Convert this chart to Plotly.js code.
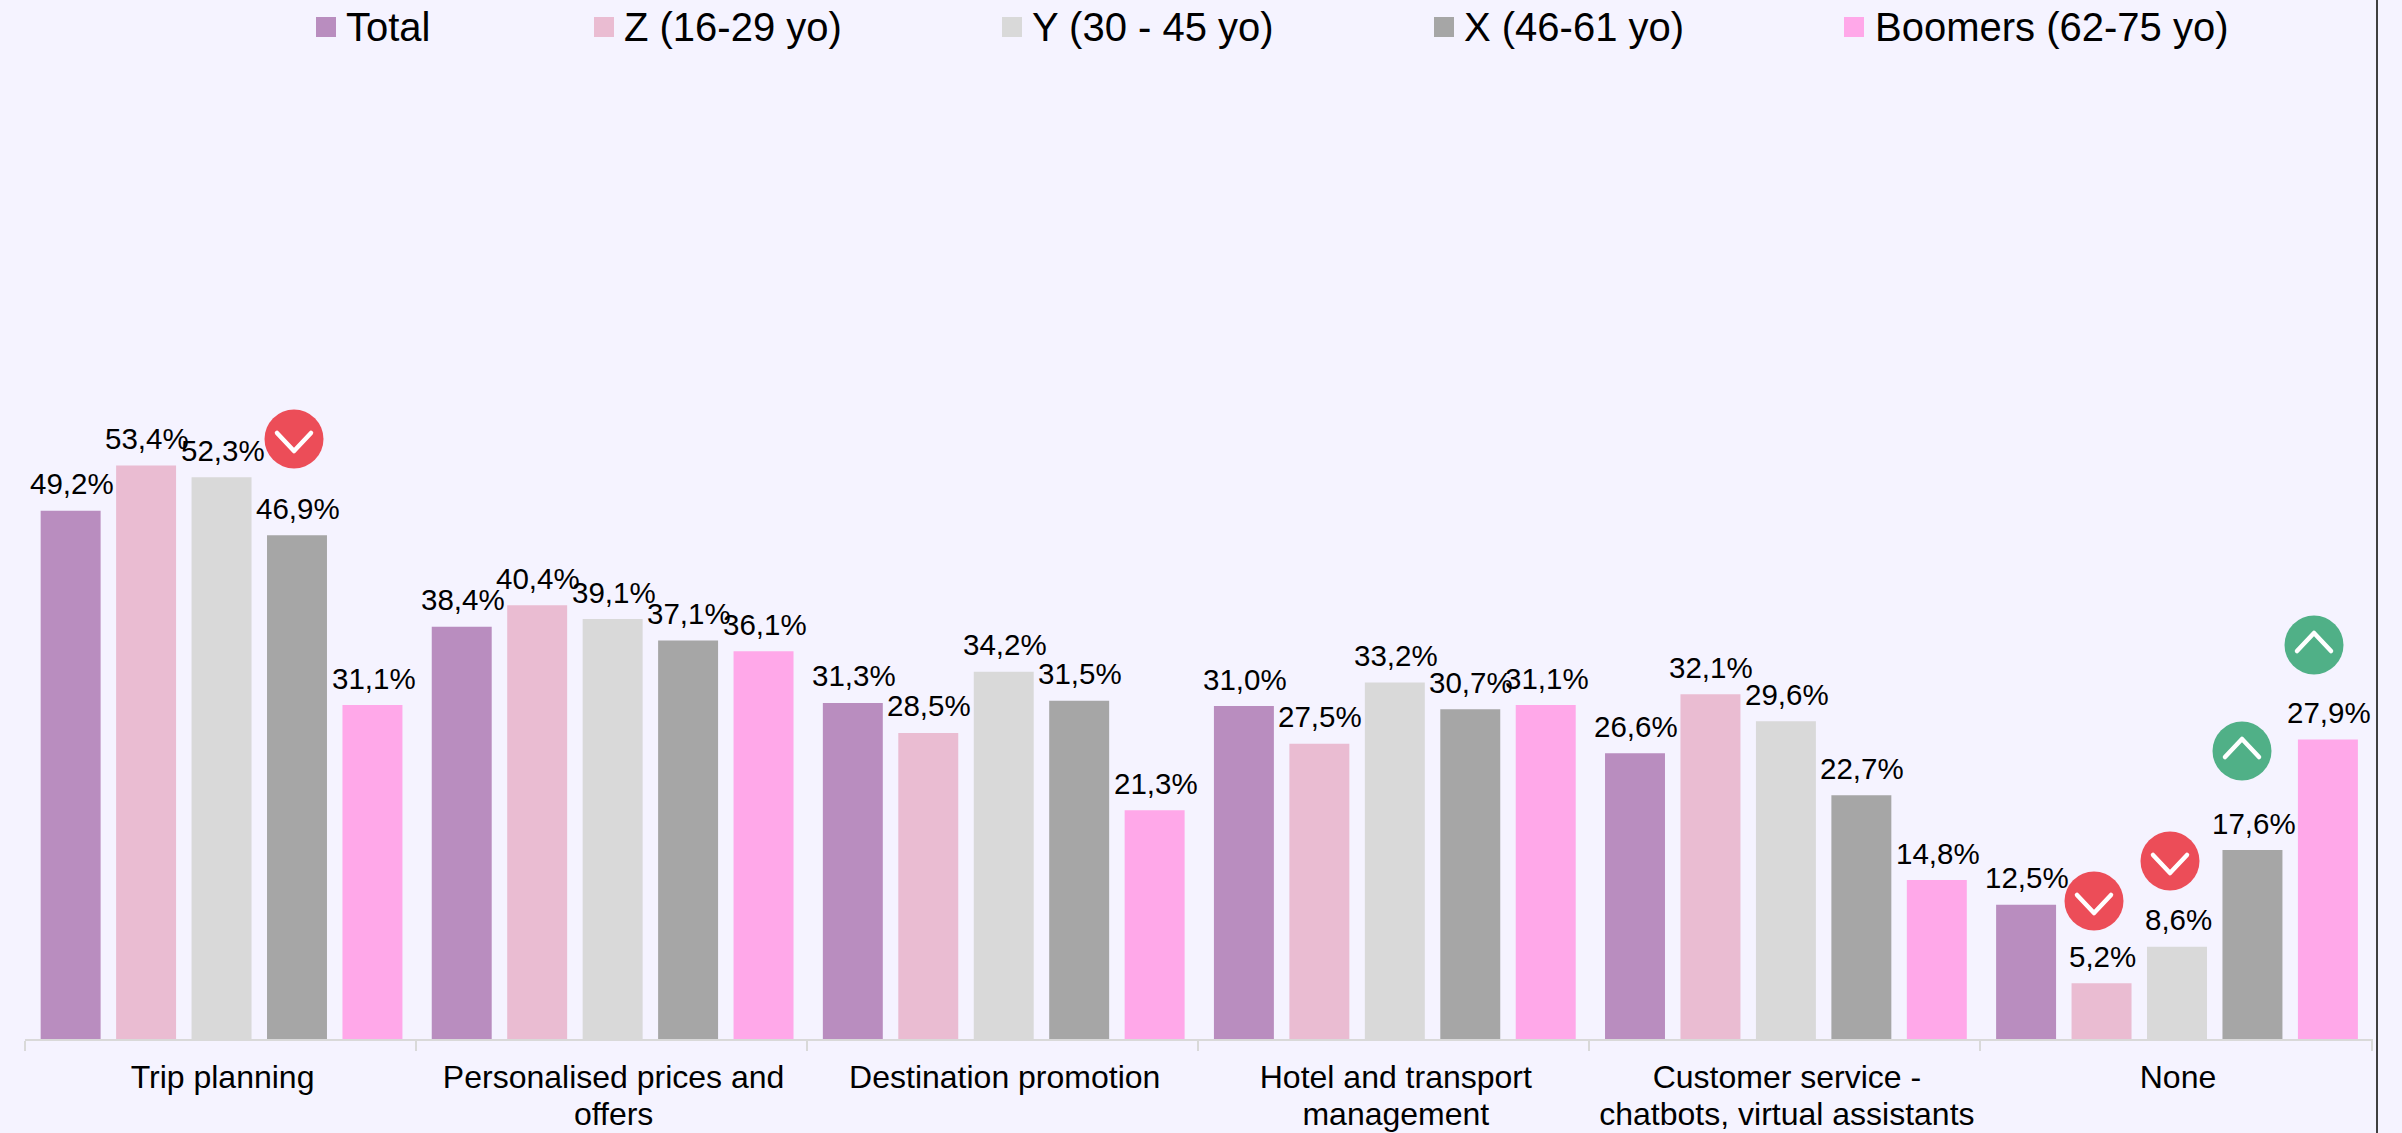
<!DOCTYPE html>
<html>
<head>
<meta charset="utf-8">
<script src="https://cdn.plot.ly/plotly-3.0.1.min.js"></script>
<style>html,body{margin:0;padding:0;background:#F5F3FF;overflow:hidden}#chart{width:2402px;height:1133px}</style>
</head>
<body>
<div id="chart"></div>
<script>
const categories = ["Trip planning","Personalised prices and<br>offers","Destination promotion","Hotel and transport<br>management","Customer service -<br>chatbots, virtual assistants","None"];
const seriesNames = ["Total","Z (16-29 yo)","Y (30 - 45 yo)","X (46-61 yo)","Boomers (62-75 yo)"];
const total   = [49.2,38.4,31.3,31.0,26.6,12.5];
const genZ    = [53.4,40.4,28.5,27.5,32.1,5.2];
const genY    = [52.3,39.1,34.2,33.2,29.6,8.6];
const genX    = [46.9,37.1,31.5,30.7,22.7,17.6];
const boomers = [31.1,36.1,21.3,31.1,14.8,27.9];
const seriesValues = [total,genZ,genY,genX,boomers];
const colors = ["#B98DBF","#EABCD2","#D9D9D9","#A6A6A6","#FFA8E9"];
const legendSwatchX = [316,594,1002,1434,1844];
const legendTextX = [345,623,1031,1463,1874];
const badgeX = [294,2094,2170,2242,2314];
const badgeY = [439,901,861,751,645];
const badgeDir = ["down","down","down","up","up"];
const badgeColor = {down:"#EC4D58",up:"#50B087"};

const W=2402,H=1133,L=25,R=29,T=65,B=94;
const px=x=>(x-L)/(W-L-R);
const py=y=>1-(y-T)/(H-T-B);
const FONT="Liberation Sans, Arial, sans-serif";
const STEP=75.5, CAT=(W-L-R)/6, BARW=60;

const traces=seriesNames.map((n,i)=>({type:"bar",name:n,x:categories,y:seriesValues[i],
  width:BARW/CAT,offset:((i-2)*STEP-BARW/2+1)/CAT,
  marker:{color:colors[i],line:{width:0}},hoverinfo:"skip"}));

const annotations=[];
seriesValues.forEach((vals,i)=>vals.forEach((v,c)=>{
  annotations.push({x:categories[c],y:v,xref:"x",yref:"y",xshift:(i-2)*STEP+2,yshift:8.5,yanchor:"bottom",xanchor:"center",showarrow:false,
    text:v.toFixed(1).replace(".",",")+"%",font:{family:FONT,size:29.5,color:"#000"}});
}));
seriesNames.forEach((n,i)=>{
  annotations.push({x:px(legendTextX[i]),y:py(27),xref:"paper",yref:"paper",xanchor:"left",yanchor:"middle",showarrow:false,borderpad:0,
    text:n,font:{family:FONT,size:40,color:"#000"}});
});

const shapes=[];
seriesNames.forEach((n,i)=>{
  shapes.push({type:"rect",xref:"paper",yref:"paper",x0:px(legendSwatchX[i]),x1:px(legendSwatchX[i]+20),y0:py(37),y1:py(17),fillcolor:colors[i],line:{width:0}});
});
shapes.push({type:"line",xref:"paper",yref:"paper",x0:px(2377),x1:px(2377),y0:py(0),y1:py(1133),line:{color:"#404040",width:2}});
badgeX.forEach((x,i)=>{
  const y=badgeY[i],up=badgeDir[i]==="up",r=29.5;
  shapes.push({type:"circle",xref:"paper",yref:"paper",x0:px(x-r),x1:px(x+r),y0:py(y+r),y1:py(y-r),fillcolor:badgeColor[badgeDir[i]],line:{width:0}});
  const a=up?y+6:y-6,b=up?y-12:y+12;
  shapes.push({type:"path",xref:"paper",yref:"paper",
    path:`M ${px(x-17)} ${py(a)} L ${px(x)} ${py(b)} L ${px(x+17)} ${py(a)}`,
    fillcolor:"rgba(0,0,0,0)",line:{color:"#FFFFFF",width:4.5}});
});

const layout={
  width:W,height:H,margin:{l:L,r:R,t:T,b:B,pad:0},
  paper_bgcolor:"#F5F3FF",plot_bgcolor:"#F5F3FF",
  barmode:"group",showlegend:false,
  separators:",.",
  font:{family:FONT,color:"#000"},
  xaxis:{type:"category",tickson:"boundaries",ticks:"outside",ticklen:10,tickwidth:2,tickcolor:"#D9D9D9",
    showline:true,linecolor:"#D9D9D9",linewidth:2,showgrid:false,zeroline:false,automargin:false,tickangle:0,
    ticklabelstandoff:9,ticklabelshift:2,
    tickfont:{family:FONT,size:32,color:"#000"}},
  yaxis:{range:[0,90.7],visible:false,showgrid:false,zeroline:false,fixedrange:true},
  annotations,shapes
};
Plotly.newPlot("chart",traces,layout,{displayModeBar:false,staticPlot:true}).then(()=>{
  document.querySelectorAll(".shapelayer path").forEach(p=>{p.style.strokeLinecap="round";p.style.strokeLinejoin="round";});
  document.querySelectorAll(".xtick text tspan.line").forEach(t=>{
    if(parseFloat(t.getAttribute("dy"))>0) t.setAttribute("dy","1.14em");
  });
});
</script>
</body>
</html>
